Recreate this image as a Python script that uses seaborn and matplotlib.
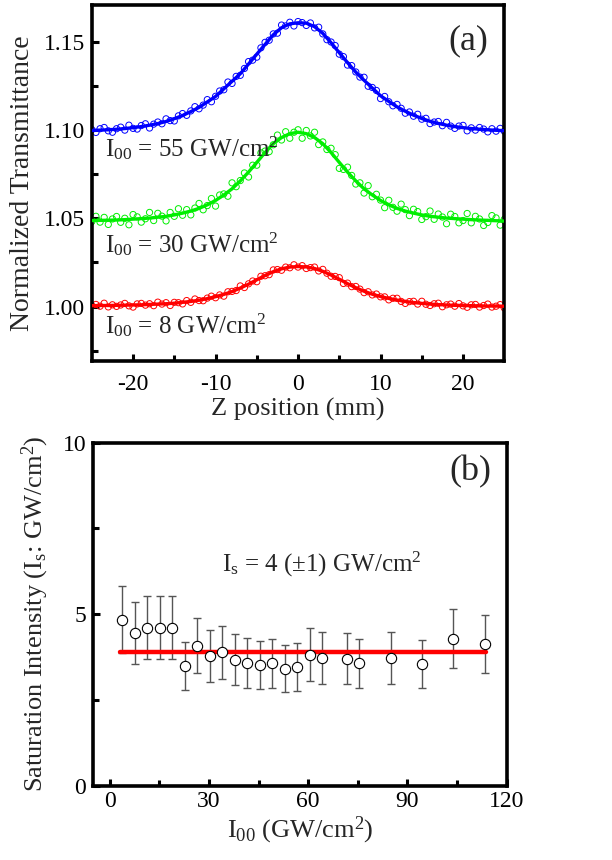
import numpy as np
import matplotlib
matplotlib.use("Agg")
import matplotlib.pyplot as plt
import seaborn as sns

# ---- panel (a): Z-scan traces ----
z_scan = np.arange(-25, 25.5, 0.5)
z_fit = np.arange(-25, 26, 1)

t55_data = [1.1004, 1.0988, 1.1009, 1.1016, 1.0997, 1.0989, 1.1009, 1.1018, 1.1001, 1.1029,
            1.1011, 1.1007, 1.1027, 1.1037, 1.1013, 1.1035, 1.1047, 1.1037, 1.1065, 1.1055,
            1.1053, 1.1082, 1.1095, 1.1085, 1.1110, 1.1134, 1.1122, 1.1143, 1.1174, 1.1162,
            1.1193, 1.1223, 1.1230, 1.1274, 1.1266, 1.1306, 1.1312, 1.1351, 1.1390, 1.1398,
            1.1415, 1.1468, 1.1499, 1.1511, 1.1547, 1.1551, 1.1597, 1.1592, 1.1613, 1.1592,
            1.1617, 1.1611, 1.1595, 1.1609, 1.1581, 1.1585, 1.1547, 1.1514, 1.1501, 1.1481,
            1.1432, 1.1418, 1.1370, 1.1367, 1.1331, 1.1302, 1.1301, 1.1250, 1.1243, 1.1226,
            1.1180, 1.1192, 1.1162, 1.1139, 1.1147, 1.1125, 1.1097, 1.1104, 1.1080, 1.1091,
            1.1063, 1.1068, 1.1038, 1.1047, 1.1050, 1.1026, 1.1045, 1.1024, 1.1011, 1.1024,
            1.1028, 1.0997, 1.1014, 1.1001, 1.1016, 1.1007, 1.0991, 1.1009, 1.0995, 1.1011,
            1.0995]
t55_fit = [1.0999, 1.1001, 1.1003, 1.1006, 1.1010, 1.1015, 1.1021, 1.1029, 1.1038, 1.1050,
           1.1066, 1.1084, 1.1106, 1.1130, 1.1161, 1.1192, 1.1235, 1.1278, 1.1321, 1.1376,
           1.1432, 1.1487, 1.1542, 1.1582, 1.1604, 1.1610, 1.1608, 1.1588, 1.1550, 1.1497,
           1.1440, 1.1384, 1.1330, 1.1284, 1.1240, 1.1196, 1.1164, 1.1133, 1.1108, 1.1086,
           1.1067, 1.1051, 1.1039, 1.1029, 1.1021, 1.1015, 1.1010, 1.1006, 1.1003, 1.1000,
           1.0998]

t30_data = [1.0482, 1.0512, 1.0479, 1.0506, 1.0466, 1.0497, 1.0511, 1.0478, 1.0501, 1.0464,
            1.0522, 1.0509, 1.0479, 1.0498, 1.0534, 1.0488, 1.0529, 1.0513, 1.0486, 1.0534,
            1.0512, 1.0555, 1.0518, 1.0550, 1.0520, 1.0559, 1.0585, 1.0549, 1.0573, 1.0613,
            1.0570, 1.0633, 1.0639, 1.0626, 1.0702, 1.0680, 1.0715, 1.0758, 1.0735, 1.0802,
            1.0802, 1.0872, 1.0882, 1.0879, 1.0918, 1.0973, 1.0945, 1.0992, 1.0955, 1.0989,
            1.1003, 1.0955, 1.0999, 1.0968, 1.0989, 1.0919, 1.0934, 1.0891, 1.0898, 1.0862,
            1.0784, 1.0778, 1.0791, 1.0744, 1.0695, 1.0702, 1.0644, 1.0686, 1.0623, 1.0637,
            1.0604, 1.0561, 1.0603, 1.0563, 1.0541, 1.0581, 1.0550, 1.0516, 1.0552, 1.0539,
            1.0494, 1.0510, 1.0542, 1.0495, 1.0525, 1.0508, 1.0470, 1.0524, 1.0511, 1.0475,
            1.0488, 1.0528, 1.0475, 1.0512, 1.0497, 1.0460, 1.0477, 1.0516, 1.0503, 1.0462,
            1.0495]
t30_fit = [1.0488, 1.0489, 1.0490, 1.0491, 1.0493, 1.0496, 1.0499, 1.0502, 1.0507, 1.0512,
           1.0520, 1.0530, 1.0542, 1.0557, 1.0577, 1.0602, 1.0633, 1.0668, 1.0713, 1.0763,
           1.0818, 1.0874, 1.0924, 1.0959, 1.0981, 1.0989, 1.0981, 1.0959, 1.0924, 1.0874,
           1.0818, 1.0763, 1.0713, 1.0668, 1.0633, 1.0602, 1.0577, 1.0557, 1.0542, 1.0530,
           1.0520, 1.0512, 1.0507, 1.0502, 1.0499, 1.0496, 1.0493, 1.0491, 1.0489, 1.0487,
           1.0485]

t8_data = [1.0006, 1.0012, 1.0002, 1.0019, 0.9998, 1.0010, 1.0001, 1.0009, 1.0018, 1.0004,
           0.9997, 1.0015, 1.0018, 1.0008, 1.0016, 1.0005, 1.0025, 1.0014, 1.0022, 1.0006,
           1.0024, 1.0022, 1.0015, 1.0034, 1.0024, 1.0043, 1.0034, 1.0033, 1.0048, 1.0059,
           1.0050, 1.0066, 1.0059, 1.0084, 1.0086, 1.0091, 1.0117, 1.0108, 1.0129, 1.0145,
           1.0141, 1.0172, 1.0175, 1.0181, 1.0208, 1.0210, 1.0206, 1.0224, 1.0220, 1.0237,
           1.0224, 1.0232, 1.0216, 1.0221, 1.0224, 1.0202, 1.0211, 1.0189, 1.0172, 1.0171,
           1.0164, 1.0131, 1.0133, 1.0113, 1.0114, 1.0099, 1.0079, 1.0084, 1.0066, 1.0071,
           1.0055, 1.0055, 1.0038, 1.0047, 1.0047, 1.0029, 1.0018, 1.0028, 1.0030, 1.0014,
           1.0030, 1.0013, 1.0006, 1.0016, 1.0019, 0.9999, 1.0010, 1.0014, 1.0002, 1.0017,
           1.0004, 0.9996, 1.0010, 1.0012, 0.9997, 1.0006, 1.0014, 0.9997, 1.0002, 1.0011,
           0.9992]
t8_fit = [1.0005, 1.0006, 1.0006, 1.0007, 1.0008, 1.0009, 1.0010, 1.0012, 1.0014, 1.0016,
          1.0019, 1.0024, 1.0029, 1.0036, 1.0045, 1.0056, 1.0069, 1.0085, 1.0105, 1.0127,
          1.0152, 1.0176, 1.0198, 1.0214, 1.0224, 1.0227, 1.0225, 1.0216, 1.0200, 1.0179,
          1.0155, 1.0130, 1.0107, 1.0087, 1.0070, 1.0057, 1.0046, 1.0037, 1.0029, 1.0023,
          1.0018, 1.0014, 1.0011, 1.0009, 1.0007, 1.0006, 1.0005, 1.0004, 1.0003, 1.0003,
          1.0002]

trace_labels = [r"I$\mathregular{_{00}}$ = 55 GW/cm$\mathregular{^2}$",
                r"I$\mathregular{_{00}}$ = 30 GW/cm$\mathregular{^2}$",
                r"I$\mathregular{_{00}}$ = 8 GW/cm$\mathregular{^2}$"]

# ---- panel (b): saturation intensity ----
i00 = [3.8, 7.6, 11.4, 15.1, 19.0, 22.7, 26.5, 30.3, 34.0, 37.8, 41.6, 45.4,
       49.2, 52.9, 56.6, 60.6, 64.2, 71.8, 75.5, 85.0, 94.4, 103.9, 113.4]
i_sat = [4.84, 4.45, 4.60, 4.60, 4.60, 3.49, 4.08, 3.77, 3.89, 3.67, 3.58, 3.51,
         3.57, 3.41, 3.45, 3.82, 3.72, 3.70, 3.57, 3.72, 3.56, 4.29, 4.14]
i_sat_err = [0.97, 0.90, 0.92, 0.92, 0.92, 0.71, 0.80, 0.76, 0.78, 0.74, 0.72, 0.70,
             0.72, 0.69, 0.70, 0.77, 0.75, 0.74, 0.72, 0.75, 0.70, 0.85, 0.84]
mean_x = [3.2, 113.6]
mean_y = [3.91, 3.91]

sns.set_style("ticks")
plt.rcParams['font.family'] = ['Liberation Serif', 'DejaVu Serif']
plt.rcParams['mathtext.fontset'] = 'custom'
plt.rcParams['mathtext.rm'] = 'Liberation Serif'
plt.rcParams['axes.unicode_minus'] = False

fig = plt.figure(figsize=(6.12, 8.6), dpi=100)
ax1 = fig.add_axes([0.150, 0.580, 0.674, 0.414])
ax2 = fig.add_axes([0.152, 0.0864, 0.676, 0.3988])

colors = ['#0000ff', '#00ee00', '#ff0000']
for data, fit, c in zip([t55_data, t30_data, t8_data], [t55_fit, t30_fit, t8_fit], colors):
    sns.scatterplot(x=z_scan, y=data, ax=ax1, marker='o', s=20, facecolors='none',
                    edgecolor=c, linewidth=0.7, zorder=2)
    sns.lineplot(x=z_fit, y=fit, ax=ax1, color=c, lw=2.4, zorder=3)

for lab, ypos in zip(trace_labels, [1.085, 1.0305, 0.985]):
    ax1.text(-23.4, ypos, lab, fontsize=18, va='baseline', ha='left')
ax1.text(0.913, 0.90, "(a)", transform=ax1.transAxes, fontsize=26, ha='center', va='center')

ax1.set_xlim(-25, 25)
ax1.set_ylim(0.969, 1.171)
ax1.set_xticks([-20, -10, 0, 10, 20])
ax1.set_xticks([-15, -5, 5, 15], minor=True)
ax1.set_yticks([1.00, 1.05, 1.10, 1.15])
ax1.set_yticks([0.975, 1.025, 1.075, 1.125], minor=True)
ax1.set_yticklabels(['1.00', '1.05', '1.10', '1.15'])
ax1.set_xlabel("Z position (mm)", fontsize=19, labelpad=2)
ax1.set_ylabel("Normalized Transmittance", fontsize=20, labelpad=6)
ax1.tick_params(axis='x', pad=9)

# panel b
ax2.errorbar(i00, i_sat, yerr=i_sat_err, fmt='none', ecolor='#555555', elinewidth=1.0,
             capsize=3, capthick=1.0, zorder=2)
sns.lineplot(x=mean_x, y=mean_y, ax=ax2, color='#ff0000', lw=3.2, zorder=3)
sns.scatterplot(x=i00, y=i_sat, ax=ax2, marker='o', s=55, color='white',
                edgecolor='black', linewidth=0.8, zorder=4)
ax2.text(34.1, 6.24, r"I$\mathregular{_s}$ = 4 (±1) GW/cm$\mathregular{^2}$", fontsize=18,
         va='baseline', ha='left')
ax2.text(0.911, 0.915, "(b)", transform=ax2.transAxes, fontsize=26, ha='center', va='center')
ax2.set_xlim(-5, 120)
ax2.set_ylim(0, 10)
ax2.set_xticks([0, 30, 60, 90, 120])
ax2.set_xticks([15, 45, 75, 105], minor=True)
ax2.set_yticks([0, 5, 10])
ax2.set_yticks([2.5, 7.5], minor=True)
ax2.set_xlabel(r"I$\mathregular{_{00}}$ (GW/cm$\mathregular{^2}$)", fontsize=19, labelpad=2)
ax2.set_ylabel(r"Saturation Intensity (I$\mathregular{_s}$: GW/cm$\mathregular{^2}$)",
               fontsize=19, labelpad=8)
ax2.tick_params(axis='x', pad=4)

for ax in (ax1, ax2):
    for sp in ax.spines.values():
        sp.set_linewidth(2.6)
        sp.set_color('black')
    ax.tick_params(which='both', direction='in', width=2.2, top=False, right=False,
                   labelsize=17, colors='black')
    ax.tick_params(which='major', length=5)
    ax.tick_params(which='minor', length=4)
    ax.tick_params(axis='y', pad=5)

fig.savefig("out.png", dpi=100)
